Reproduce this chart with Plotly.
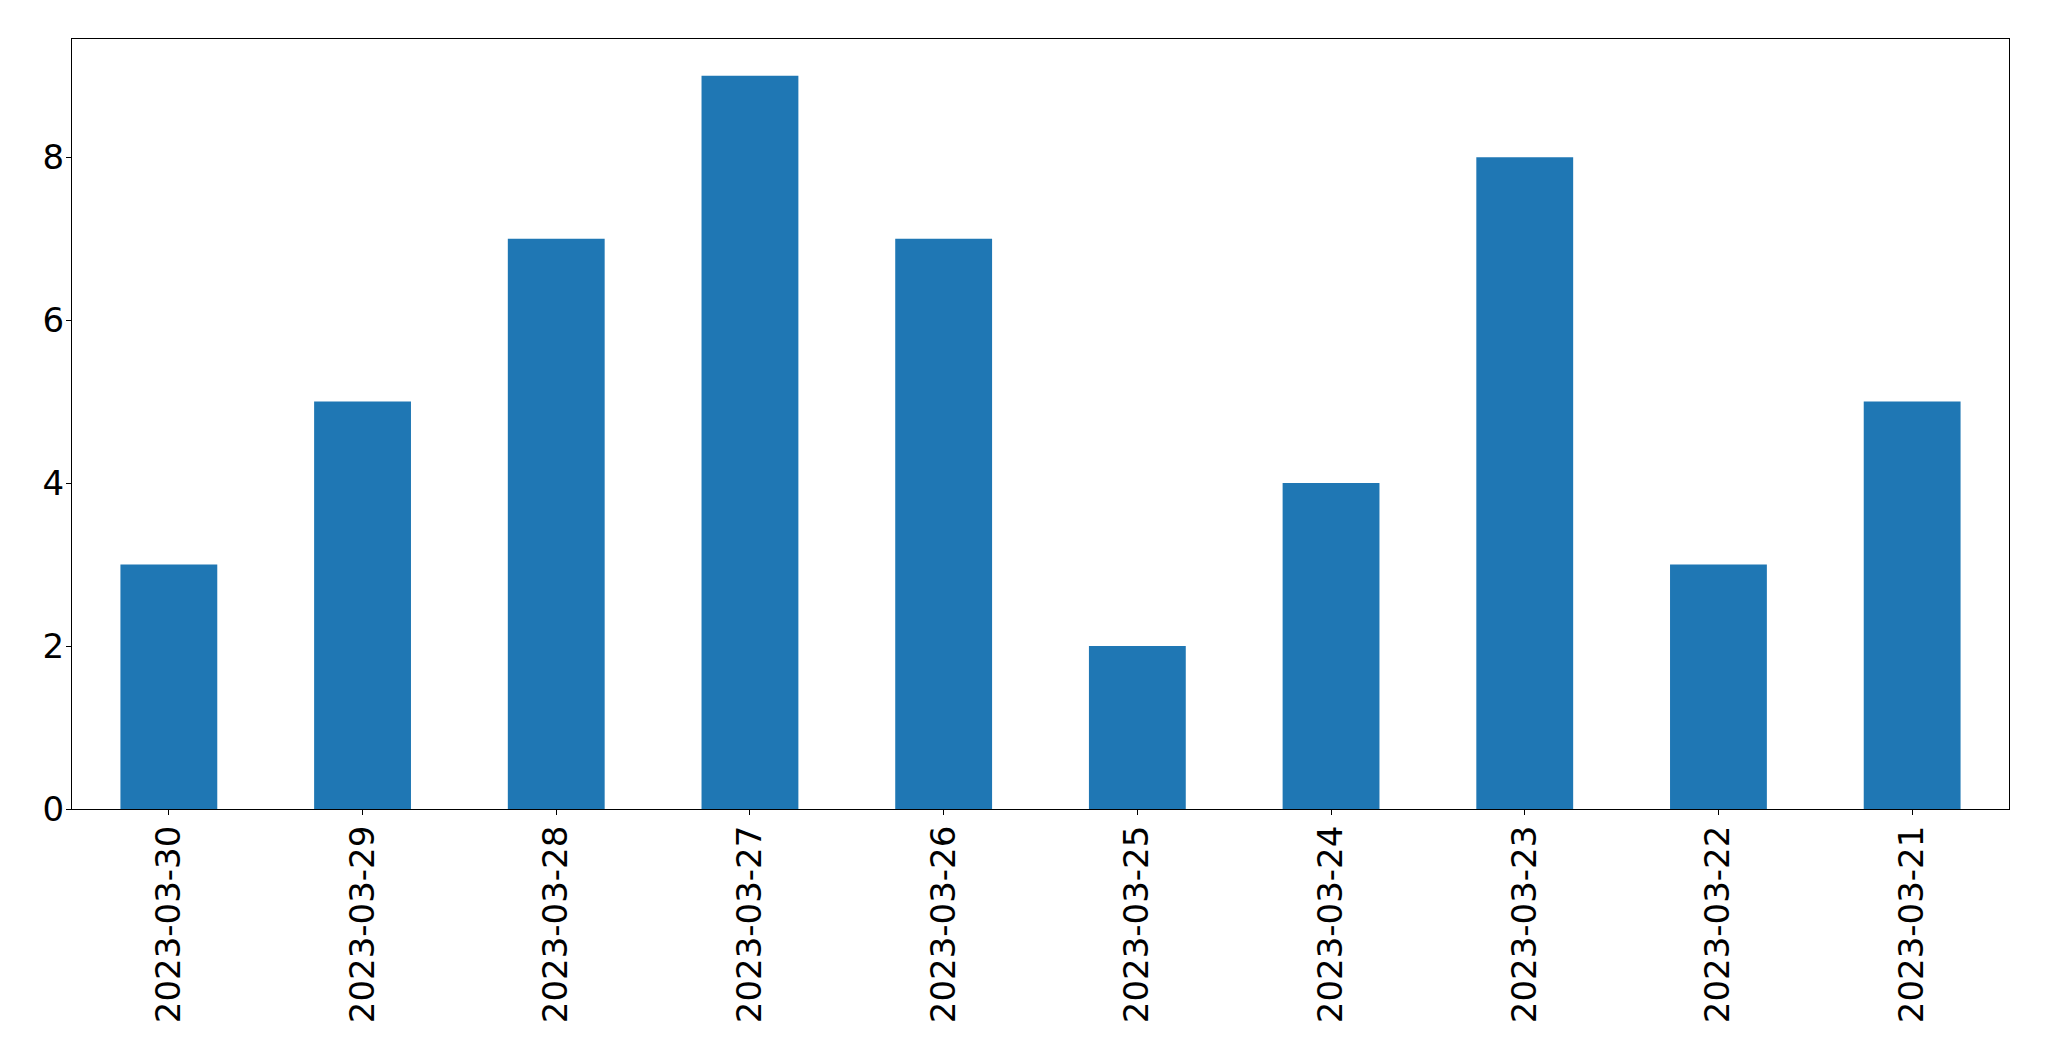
import plotly.graph_objects as go

dates = ["2023-03-30", "2023-03-29", "2023-03-28", "2023-03-27", "2023-03-26",
         "2023-03-25", "2023-03-24", "2023-03-23", "2023-03-22", "2023-03-21"]
counts = [3, 5, 7, 9, 7, 2, 4, 8, 3, 5]
y_ticks = [0, 2, 4, 6, 8]

fig = go.Figure(go.Bar(x=dates, y=counts, marker=dict(color="#1f77b4", line=dict(width=0))))

font = dict(family="DejaVu Sans", size=34, color="black")
fig.update_layout(
    width=2049, height=1061,
    margin=dict(l=72, r=40, t=39, b=252),
    plot_bgcolor="white", paper_bgcolor="white",
    bargap=0.5, showlegend=False, font=font,
)
fig.update_xaxes(type="category", range=[-0.5, 9.5], tickangle=-90,
                 showline=True, linecolor="black", linewidth=1.1, mirror=True,
                 ticks="outside", ticklen=5, tickwidth=1.1, tickcolor="black",
                 showgrid=False, zeroline=False, tickfont=font, ticklabelstandoff=-3)
fig.update_yaxes(range=[0, 9.45], tickvals=y_ticks,
                 showline=True, linecolor="black", linewidth=1.1, mirror=True,
                 ticks="outside", ticklen=5, tickwidth=1.1, tickcolor="black",
                 showgrid=False, zeroline=False, tickfont=font, ticklabelstandoff=-5)

fig.write_html("out.html")
